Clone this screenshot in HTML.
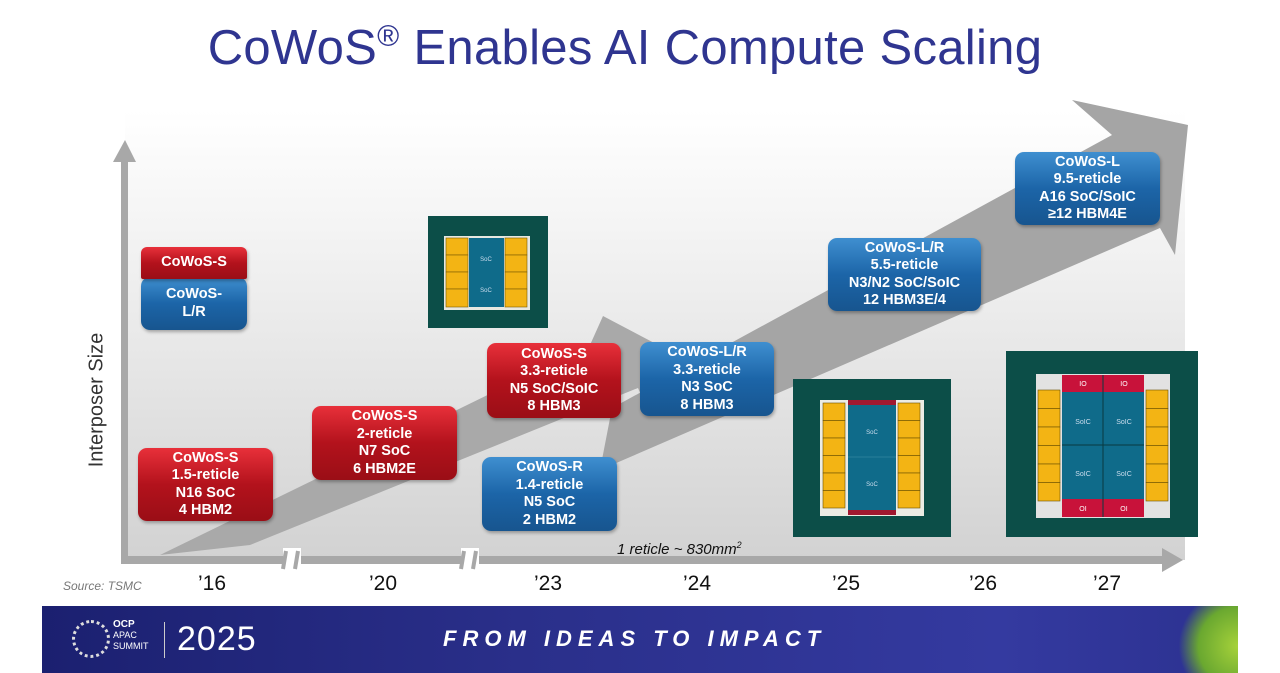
<!DOCTYPE html>
<html><head><meta charset="utf-8"><style>
*{margin:0;padding:0;box-sizing:border-box}
body{width:1280px;height:673px;position:relative;overflow:hidden;background:#fff;font-family:"Liberation Sans",sans-serif}
.a{position:absolute}
.box{position:absolute;border-radius:9px;color:#fff;font-weight:bold;font-size:14.5px;line-height:17.5px;text-align:center;display:flex;flex-direction:column;justify-content:center;box-shadow:1px 2px 3px rgba(0,0,0,.3)}
.r{background:linear-gradient(#e8303a,#b3121c 50%,#9a0e16)}
.b{background:linear-gradient(#3f8fd0,#1c65a8 50%,#17558f)}
.yr{position:absolute;top:572px;font-size:21px;color:#111;transform:translateX(-50%)}
</style></head><body>
<div class="a" style="left:0;top:20px;width:1250px;text-align:center;font-size:49px;color:#2f3590;letter-spacing:0.3px">CoWoS<span style="font-size:30px;vertical-align:18px">®</span> Enables AI Compute Scaling</div>
<div class="a" style="left:125px;top:110px;width:1060px;height:450px;background:linear-gradient(180deg,rgba(255,255,255,0) 0%,rgba(230,230,230,.6) 35%,#d2d2d2 100%)"></div>
<svg class="a" style="left:0;top:0" width="1280" height="673">
<polygon points="160,555 590,345 603,316 660,346 648,410 638,388 250,545" fill="#a9a9a9"/>
<polygon points="600,470 612,408 1112,135 1072,100 1188,125 1175,255 1160,228" fill="#a5a5a5"/>
<rect x="121" y="160" width="7" height="402" fill="#a8a8a8"/>
<polygon points="113,162 136,162 125,140" fill="#a8a8a8"/>
<rect x="121" y="556" width="1045" height="8" fill="#a8a8a8"/>
<polygon points="1162,548 1183,560 1162,572" fill="#a8a8a8"/>
<rect x="283" y="548" width="18" height="22" fill="#fff"/>
<rect x="461" y="548" width="18" height="22" fill="#fff"/>
<path d="M286,551 l-3,18 M298,551 l-3,18 M464,551 l-3,18 M476,551 l-3,18" stroke="#a8a8a8" stroke-width="4"/>
<rect x="428" y="216" width="120" height="112" fill="#0c4e48"/>
<rect x="444" y="236" width="86" height="74" fill="#e8e8e0"/>
<g fill="#f3b414" stroke="#7a5a00" stroke-width=".6">
<rect x="446" y="238" width="22" height="17"/><rect x="446" y="255" width="22" height="17"/><rect x="446" y="272" width="22" height="17"/><rect x="446" y="289" width="22" height="18"/>
<rect x="505" y="238" width="22" height="17"/><rect x="505" y="255" width="22" height="17"/><rect x="505" y="272" width="22" height="17"/><rect x="505" y="289" width="22" height="18"/></g>
<rect x="469" y="238" width="35" height="69" fill="#0f6b8a"/>
<text x="486" y="261" font-size="6" fill="#cde" text-anchor="middle">SoC</text><text x="486" y="292" font-size="6" fill="#cde" text-anchor="middle">SoC</text>
<rect x="793" y="379" width="158" height="158" fill="#0c4e48"/>
<rect x="820" y="400" width="104" height="116" fill="#ecece4"/>
<g fill="#f3b414" stroke="#6a5000" stroke-width=".6">
<rect x="823" y="403" width="22" height="17.5"/><rect x="823" y="420.5" width="22" height="17.5"/><rect x="823" y="438" width="22" height="17.5"/><rect x="823" y="455.5" width="22" height="17.5"/><rect x="823" y="473" width="22" height="17.5"/><rect x="823" y="490.5" width="22" height="17.5"/>
<rect x="898" y="403" width="22" height="17.5"/><rect x="898" y="420.5" width="22" height="17.5"/><rect x="898" y="438" width="22" height="17.5"/><rect x="898" y="455.5" width="22" height="17.5"/><rect x="898" y="473" width="22" height="17.5"/><rect x="898" y="490.5" width="22" height="17.5"/></g>
<rect x="848" y="400" width="48" height="5" fill="#a01830"/><rect x="848" y="510" width="48" height="5" fill="#a01830"/>
<rect x="848" y="405" width="48" height="105" fill="#0f6b8a"/><line x1="848" y1="457" x2="896" y2="457" stroke="#2a7f99"/>
<text x="872" y="434" font-size="6" fill="#cde" text-anchor="middle">SoC</text><text x="872" y="486" font-size="6" fill="#cde" text-anchor="middle">SoC</text>
<rect x="1006" y="351" width="192" height="186" fill="#0c4e48"/>
<rect x="1036" y="374" width="134" height="144" fill="#e2e2e2"/>
<g fill="#f3b414" stroke="#6a5000" stroke-width=".6">
<rect x="1038" y="390" width="22" height="18.5"/><rect x="1038" y="408.5" width="22" height="18.5"/><rect x="1038" y="427" width="22" height="18.5"/><rect x="1038" y="445.5" width="22" height="18.5"/><rect x="1038" y="464" width="22" height="18.5"/><rect x="1038" y="482.5" width="22" height="18.5"/>
<rect x="1146" y="390" width="22" height="18.5"/><rect x="1146" y="408.5" width="22" height="18.5"/><rect x="1146" y="427" width="22" height="18.5"/><rect x="1146" y="445.5" width="22" height="18.5"/><rect x="1146" y="464" width="22" height="18.5"/><rect x="1146" y="482.5" width="22" height="18.5"/></g>
<rect x="1062" y="375" width="82" height="17" fill="#c8123a"/><rect x="1062" y="499" width="82" height="18" fill="#c8123a"/>
<rect x="1062" y="392" width="82" height="107" fill="#0f6b8a"/>
<path d="M1103,375 v142 M1062,445 h82" stroke="#0a3a40" stroke-width="1"/>
<g font-size="7" fill="#fff" text-anchor="middle"><text x="1083" y="386">IO</text><text x="1124" y="386">IO</text><text x="1083" y="511">OI</text><text x="1124" y="511">OI</text>
<text x="1083" y="424" fill="#cde">SoIC</text><text x="1124" y="424" fill="#cde">SoIC</text><text x="1083" y="476" fill="#cde">SoIC</text><text x="1124" y="476" fill="#cde">SoIC</text></g>
</svg>
<div class="box r" style="left:141px;top:247px;width:106px;height:32px;z-index:2;border-radius:6px 6px 2px 2px">CoWoS-S</div>
<div class="box b" style="left:141px;top:277px;width:106px;height:53px">CoWoS-<br>L/R</div>
<div class="box r" style="left:138px;top:448px;width:135px;height:73px">CoWoS-S<br>1.5-reticle<br>N16 SoC<br>4 HBM2</div>
<div class="box r" style="left:312px;top:406px;width:145px;height:74px">CoWoS-S<br>2-reticle<br>N7 SoC<br>6 HBM2E</div>
<div class="box r" style="left:487px;top:343px;width:134px;height:75px">CoWoS-S<br>3.3-reticle<br>N5 SoC/SoIC<br>8 HBM3</div>
<div class="box b" style="left:482px;top:457px;width:135px;height:74px">CoWoS-R<br>1.4-reticle<br>N5 SoC<br>2 HBM2</div>
<div class="box b" style="left:640px;top:342px;width:134px;height:74px">CoWoS-L/R<br>3.3-reticle<br>N3 SoC<br>8 HBM3</div>
<div class="box b" style="left:828px;top:238px;width:153px;height:73px">CoWoS-L/R<br>5.5-reticle<br>N3/N2 SoC/SoIC<br>12 HBM3E/4</div>
<div class="box b" style="left:1015px;top:152px;width:145px;height:73px">CoWoS-L<br>9.5-reticle<br>A16 SoC/SoIC<br>≥12 HBM4E</div>
<div class="a" style="left:97px;top:400px;transform:translate(-50%,-50%) rotate(-90deg);font-size:20px;color:#333;white-space:nowrap">Interposer Size</div>
<div class="a" style="left:617px;top:540px;font-size:15px;font-style:italic;color:#111">1 reticle ~ 830mm<sup style="font-size:9px">2</sup></div>
<div class="a" style="left:63px;top:579px;font-size:12px;font-style:italic;color:#777">Source: TSMC</div>
<div class="yr" style="left:212px">’16</div><div class="yr" style="left:383px">’20</div><div class="yr" style="left:548px">’23</div><div class="yr" style="left:697px">’24</div><div class="yr" style="left:846px">’25</div><div class="yr" style="left:983px">’26</div><div class="yr" style="left:1107px">’27</div>
<div class="a" style="left:42px;top:606px;width:1196px;height:67px;background:linear-gradient(90deg,#1b2070,#2a2f8a 40%,#343aa0 80%,#2c3190)"></div>
<div class="a" style="left:1170px;top:606px;width:68px;height:67px;background:radial-gradient(circle at 100% 60%,#a6d23a,#6aa830 50%,rgba(60,80,150,0) 75%)"></div>
<div class="a" style="left:72px;top:620px;width:38px;height:38px;border-radius:50%;border:3px dotted #ddd"></div>
<div class="a" style="left:113px;top:620px;color:#fff;font-size:10px;line-height:10px;font-weight:bold">OCP<br><span style="font-weight:normal;font-size:9px">APAC<br>SUMMIT</span></div>
<div class="a" style="left:164px;top:622px;width:1px;height:36px;background:#ccc"></div>
<div class="a" style="left:177px;top:620px;color:#fff;font-size:34px;font-weight:100;letter-spacing:1px">2025</div>
<div class="a" style="left:443px;top:626px;color:#fff;font-size:22px;font-weight:bold;font-style:italic;letter-spacing:6px;white-space:nowrap">FROM IDEAS TO IMPACT</div>
</body></html>
